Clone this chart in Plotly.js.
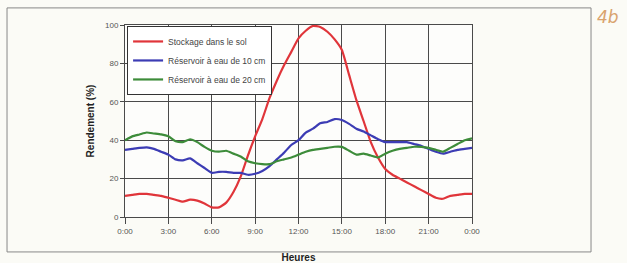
<!DOCTYPE html>
<html><head><meta charset="utf-8">
<script src="https://cdn.plot.ly/plotly-3.0.1.min.js"></script>
<style>html,body{margin:0;padding:0;background:#fbfbf6;}#c{width:627px;height:263px;}</style>
</head><body><div id="c"></div>
<script>
const hours = [0,0.5,1,1.5,2,2.5,3,3.5,4,4.5,5,5.5,6,6.5,7,7.5,8,8.5,9,9.5,10,10.5,11,11.5,12,12.5,13,13.5,14,14.5,15,15.5,16,16.5,17,17.5,18,18.5,19,19.5,20,20.5,21,21.5,22,22.5,23,23.5,24];
const stockageSol = [11,11.5,12,12,11.5,11,10,9,8,9,8.5,7,5,5,7.5,13,21,32,42,51,62,71,79,86,93,97,99.5,99,96.5,92.5,87,74,61,50,39,31,25,22,20,18,16,14,12,10,9.5,11,11.5,12,12];
const reservoir10 = [35,35.5,36,36.3,35.5,34,32.5,30,29.5,30.5,28,25.5,23,23.5,23.5,23,23,22,22.5,24,26.5,30,33.5,37.5,40,44,46,48.8,49.5,51,50.5,48.5,46,44.5,42.5,40.5,39,39,39,39,38,37,35.5,34,33,34,35,35.5,36];
const reservoir20 = [40,42,43,44,43.5,43,42,39.5,39,40.5,39,36.5,34.5,34,34.5,33,31.5,29,28,27.5,27.5,29,30,31,32.5,34,35,35.5,36,36.6,36.5,34.5,32.5,33,32,31,33,34.5,35.5,36,36.6,36.5,36,35,34,36,38,40,41];
const seriesNames = ["Stockage dans le sol","Réservoir à eau de 10 cm","Réservoir à eau de 20 cm"];
const tickHours = [0,3,6,9,12,15,18,21,24];
const tickLabels = ["0:00","3:00","6:00","9:00","12:00","15:00","18:00","21:00","0:00"];
const yTicks = [0,20,40,60,80,100];

const colors = ["#e0353a","#3c3cb4","#3d8c3a"];
const ys = [stockageSol, reservoir10, reservoir20];
const data = ys.map((y,i)=>({x:hours,y:y,type:"scatter",mode:"lines",name:seriesNames[i],
  line:{color:colors[i],width:2.2,shape:"spline",smoothing:0.5}}));

const layout = {
  width:627,height:263,
  margin:{l:125,r:155,t:25,b:46},
  paper_bgcolor:"#fbfbf6",plot_bgcolor:"#fdfdfb",
  font:{family:"Liberation Sans, Arial, sans-serif",size:8,color:"#555"},
  showlegend:true,
  legend:{x:0.006,y:0.995,xanchor:"left",yanchor:"top",bgcolor:"#ffffff",bordercolor:"#333",borderwidth:1,
    font:{size:8.5,color:"#444"},tracegroupgap:0,itemwidth:30},
  xaxis:{range:[0,24],tickvals:tickHours,ticktext:tickLabels,showgrid:true,gridcolor:"#4a4a4a",gridwidth:1,
    showline:true,linecolor:"#4a4a4a",mirror:true,ticks:"outside",ticklen:6,tickcolor:"#4a4a4a",zeroline:false,
    title:{text:"<b>Heures</b>",font:{size:10,color:"#222"},standoff:20}},
  yaxis:{range:[0,100],tickvals:yTicks,showgrid:true,gridcolor:"#4a4a4a",gridwidth:1,
    showline:true,linecolor:"#4a4a4a",mirror:true,ticks:"outside",ticklen:4,tickcolor:"#4a4a4a",zeroline:false,
    title:{text:"<b>Rendement (%)</b>",font:{size:10,color:"#222"},standoff:8}},
  shapes:[{type:"rect",xref:"paper",yref:"paper",x0:-0.34,x1:1.343,y0:-0.182,y1:1.089,line:{color:"#888",width:1}}],
  annotations:[{text:"<i>4b</i>",xref:"paper",yref:"paper",x:1.392,y:1.042,xanchor:"center",yanchor:"middle",showarrow:false,
    font:{size:17,color:"#d9a36e",family:"DejaVu Sans, sans-serif"}}]
};
Plotly.newPlot("c",data,layout,{displayModeBar:false,staticPlot:true});
</script></body></html>
